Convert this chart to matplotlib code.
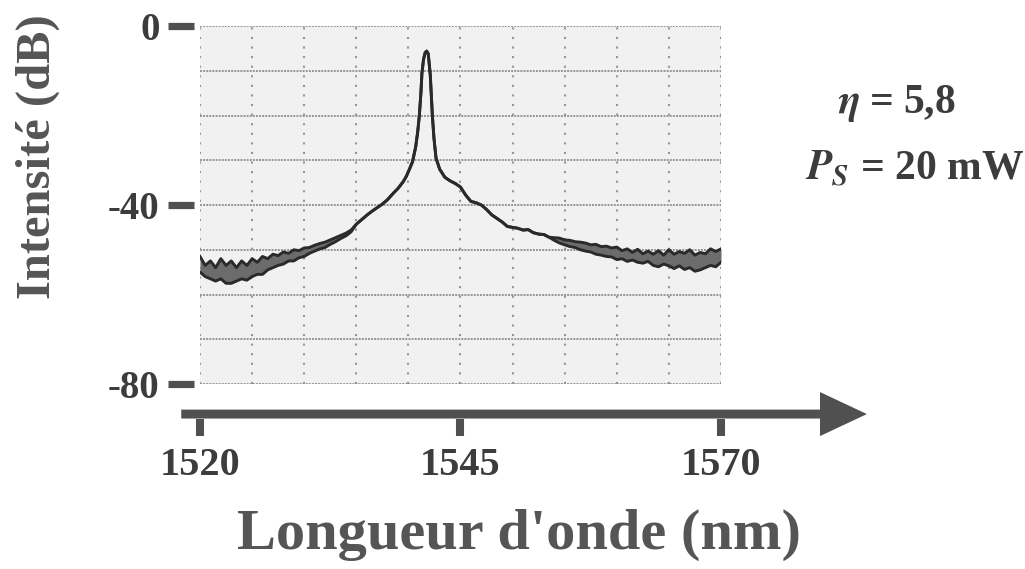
import numpy as np
import matplotlib
matplotlib.use('Agg')
import matplotlib.pyplot as plt
from matplotlib.ticker import MultipleLocator
from matplotlib.patches import FancyArrow
from matplotlib import transforms

plt.rcParams['font.family'] = ['Liberation Serif', 'DejaVu Serif']
plt.rcParams['font.weight'] = 'bold'
plt.rcParams['mathtext.fontset'] = 'stix'

# spectrum: wavelength (nm), upper / lower edge of the trace (dB)
wavelength = [1520.0, 1520.5, 1521.0, 1521.5, 1522.0, 1522.5, 1523.0, 1523.5, 1524.0, 1524.5,
              1525.0, 1525.5, 1526.0, 1526.5, 1527.0, 1527.5, 1528.0, 1528.5, 1529.0, 1529.5,
              1530.0, 1530.5, 1531.0, 1531.5, 1532.0, 1532.5, 1533.0, 1533.5, 1534.0, 1534.5,
              1535.0, 1535.5, 1536.0, 1536.5, 1537.0, 1537.5, 1538.0, 1538.5, 1539.0, 1539.5,
              1539.8, 1540.1, 1540.4, 1540.7, 1540.9, 1541.05, 1541.2, 1541.3, 1541.45, 1541.6,
              1541.75, 1541.9, 1542.0, 1542.1, 1542.2, 1542.3, 1542.45, 1542.65, 1543.0, 1543.5,
              1544.0, 1544.5, 1545.0, 1545.5, 1546.0, 1546.5, 1547.0, 1547.5, 1548.0, 1548.5,
              1549.0, 1549.5, 1550.0, 1550.5, 1551.0, 1551.5, 1552.0, 1552.5, 1553.0, 1553.5,
              1554.0, 1554.5, 1555.0, 1555.5, 1556.0, 1556.5, 1557.0, 1557.5, 1558.0, 1558.5,
              1559.0, 1559.5, 1560.0, 1560.5, 1561.0, 1561.5, 1562.0, 1562.5, 1563.0, 1563.5,
              1564.0, 1564.5, 1565.0, 1565.5, 1566.0, 1566.5, 1567.0, 1567.5, 1568.0, 1568.5,
              1569.0, 1569.5, 1570.0]
level_top = [-51.5, -53.5, -52.5, -54.0, -52.0, -53.5, -52.5, -54.0, -52.5, -53.5,
             -52.0, -52.8, -51.5, -52.0, -51.0, -51.3, -50.5, -50.8, -50.0, -50.2,
             -49.6, -49.5, -49.0, -48.6, -48.3, -47.8, -47.3, -46.8, -46.3, -45.6,
             -44.3, -43.3, -42.3, -41.4, -40.6, -39.8, -38.8, -37.5, -36.3, -34.8,
             -33.6, -32.0, -30.3, -27.0, -23.5, -20.0, -15.0, -10.5, -7.5, -6.0,
             -5.6, -6.2, -8.5, -11.0, -15.5, -20.0, -25.0, -29.5, -32.0, -33.8,
             -34.6, -35.2, -36.0, -37.8, -39.2, -39.5, -40.0, -41.0, -42.2, -43.0,
             -43.8, -44.8, -45.0, -45.2, -45.6, -45.5, -46.2, -46.5, -46.6, -47.2,
             -47.3, -47.4, -47.8, -47.9, -48.2, -48.3, -48.5, -48.9, -48.8, -49.3,
             -49.2, -49.6, -49.4, -50.2, -49.8, -50.6, -49.9, -50.9, -50.3, -51.0,
             -50.2, -51.2, -50.0, -51.0, -50.4, -50.8, -50.0, -51.2, -50.6, -50.9,
             -49.8, -50.4, -49.8]
level_bottom = [-55.0, -56.0, -56.5, -57.0, -56.5, -57.5, -57.5, -57.0, -56.5, -56.8,
                -56.0, -55.5, -55.5, -54.5, -54.0, -53.5, -53.2, -52.5, -52.5, -51.8,
                -51.5, -50.8, -50.3, -49.8, -49.5, -48.8, -48.2, -47.5, -46.9, -46.0,
                -44.3, -43.3, -42.3, -41.4, -40.6, -39.8, -38.8, -37.5, -36.3, -34.8,
                -33.6, -32.0, -30.3, -27.0, -23.5, -20.0, -15.0, -10.5, -7.5, -6.0,
                -5.6, -6.2, -8.5, -11.0, -15.5, -20.0, -25.0, -29.5, -32.0, -33.8,
                -34.6, -35.2, -36.0, -37.8, -39.2, -39.5, -40.0, -41.0, -42.2, -43.0,
                -43.8, -44.8, -45.0, -45.2, -45.6, -45.5, -46.2, -46.5, -46.6, -47.2,
                -47.9, -48.5, -48.9, -49.3, -49.5, -50.0, -50.3, -50.5, -51.0, -51.2,
                -51.5, -51.6, -52.2, -52.0, -52.6, -52.3, -52.8, -53.0, -52.6, -53.5,
                -53.8, -53.2, -53.6, -54.2, -53.6, -54.4, -54.0, -54.8, -54.5, -54.0,
                -53.5, -53.8, -52.8]

x_ticks = [1520, 1545, 1570]
y_ticks = [0, -40, -80]
y_ticklabels = ['0', '-40', '-80']

txt_dark = '#3c3c3c'
txt_label = '#555555'
mark_col = '#505050'

fig = plt.figure(figsize=(10.25, 5.69), dpi=100)
fig.patch.set_facecolor('white')
ax = fig.add_axes([200/1025, 1-384/569, 521/1025, 358/569])
ax.set_facecolor('#f1f1f1')
ax.set_xlim(1520, 1570)
ax.set_ylim(-80, 0)

for s in ax.spines.values():
    s.set_visible(False)
ax.spines['left'].set_position(('outward', 4))
ax.spines['bottom'].set_position(('outward', 25))

# dotted screen grid
ax.xaxis.set_minor_locator(MultipleLocator(5))
ax.yaxis.set_minor_locator(MultipleLocator(10))
ax.grid(which='both', axis='y', color='#959595', linestyle=(0, (1, 0.6)), lw=1.4)
ax.grid(which='both', axis='x', color='#959595', linestyle=(0, (1, 3.6)), lw=1.5)
ax.set_axisbelow(True)

ax.set_xticks(x_ticks)
ax.set_xticklabels([str(t) for t in x_ticks])
ax.set_yticks(y_ticks)
ax.set_yticklabels(y_ticklabels)
ax.tick_params(which='minor', length=0)
ax.tick_params(axis='y', which='major', length=19, width=5.2, color=mark_col,
               pad=6, labelsize=28, labelcolor=txt_dark)
ax.tick_params(axis='x', which='major', direction='out', length=12.5, width=5.8,
               color=mark_col, pad=8, labelsize=29, labelcolor=txt_dark)

# the trace
ax.fill_between(wavelength, level_bottom, level_top, color='#6c6c6c', lw=0)
ax.plot(wavelength, level_top, color='#2a2a2a', lw=2.1)
ax.plot(wavelength, level_bottom, color='#2a2a2a', lw=2.1)

# x axis drawn as a big arrow
trans = transforms.blended_transform_factory(ax.transData, ax.transAxes)
x0, x1 = ax.get_xlim()
arr = FancyArrow(x0 - 1.8, -0.084, (x1 - x0) + 15.8, 0, width=0.025,
                 head_width=0.123, head_length=4.5, length_includes_head=True,
                 transform=trans, clip_on=False, color=mark_col, lw=0)
ax.add_patch(arr)

fig.text(38/1025, 1-157/569, 'Intensité (dB)', rotation=90, ha='center', va='center',
         fontsize=35, color=txt_label, fontweight='bold')
fig.text(519/1025, 1-535/569, "Longueur d'onde (nm)", ha='center', va='center',
         fontsize=42, color=txt_label, fontweight='bold')

fig.text(897/1025, 1-113/569, r'$\eta$ = 5,8', ha='center', va='baseline',
         fontsize=30, color=txt_dark, fontweight='bold')
fig.text(915/1025, 1-180/569, r'$P_S$ = 20 mW', ha='center', va='baseline',
         fontsize=30, color=txt_dark, fontweight='bold')

fig.savefig('out.png', dpi=100)
